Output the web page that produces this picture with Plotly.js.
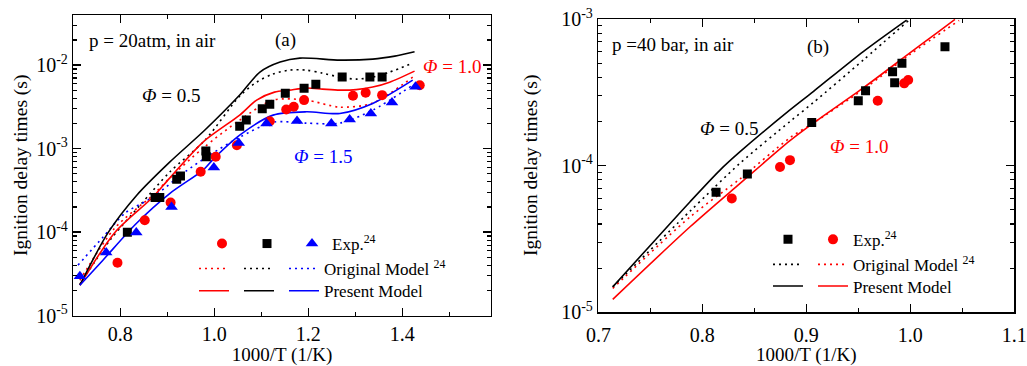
<!DOCTYPE html>
<html><head><meta charset="utf-8">
<script src="https://cdn.plot.ly/plotly-3.0.1.min.js"></script>
<style>html,body{margin:0;padding:0;background:#fff}#chart{width:1027px;height:366px}</style>
</head><body><div id="chart"></div>
<script>
// ---------- Panel (a): p = 20 atm, in air ----------
const aExpX05 = [0.815, 0.874, 0.884, 0.920, 0.928, 0.982, 0.983, 1.054, 1.068, 1.102, 1.118, 1.151, 1.191, 1.216, 1.272, 1.331, 1.357];
const aExpY05 = [1.0e-4, 2.6e-4, 2.6e-4, 4.3e-4, 4.7e-4, 9.4e-4, 8.0e-4, 1.86e-3, 2.2e-3, 3.0e-3, 3.4e-3, 4.6e-3, 5.3e-3, 5.9e-3, 7.2e-3, 7.2e-3, 7.2e-3];
const aExpX10 = [0.794, 0.852, 0.907, 0.971, 1.003, 1.048, 1.118, 1.153, 1.169, 1.191, 1.295, 1.322, 1.357, 1.437];
const aExpY10 = [4.3e-5, 1.39e-4, 2.27e-4, 5.3e-4, 8.0e-4, 1.10e-3, 2.13e-3, 2.94e-3, 3.17e-3, 3.81e-3, 4.29e-3, 4.66e-3, 4.37e-3, 5.75e-3];
const aExpX15 = [0.714, 0.770, 0.834, 0.909, 0.999, 1.052, 1.111, 1.176, 1.249, 1.288, 1.333, 1.378, 1.428];
const aExpY15 = [2.97e-5, 5.7e-5, 9.9e-5, 2.0e-4, 5.96e-4, 1.17e-3, 2.0e-3, 2.15e-3, 2.0e-3, 2.24e-3, 2.64e-3, 3.57e-3, 5.5e-3];

const aPresX05 = [0.714, 0.774, 0.835, 0.905, 0.980, 1.054, 1.097, 1.140, 1.182, 1.267, 1.337, 1.384, 1.426];
const aPresY05 = [2.32e-5, 9.86e-5, 2.77e-4, 6.89e-4, 1.67e-3, 4.38e-3, 8.24e-3, 1.087e-2, 1.213e-2, 1.148e-2, 1.180e-2, 1.282e-2, 1.442e-2];
const aOrigX05 = [0.714, 0.778, 0.842, 0.905, 0.980, 1.054, 1.090, 1.124, 1.160, 1.196, 1.230, 1.267, 1.302, 1.337, 1.373, 1.422];
const aOrigY05 = [2.38e-5, 8.02e-5, 2.10e-4, 5.24e-4, 1.26e-3, 4.26e-3, 6.25e-3, 7.80e-3, 8.71e-3, 8.71e-3, 8.02e-3, 7.18e-3, 6.79e-3, 7.18e-3, 8.24e-3, 1.057e-2];
const aPresX10 = [0.714, 0.788, 0.869, 0.905, 0.976, 1.054, 1.090, 1.128, 1.160, 1.196, 1.230, 1.267, 1.302, 1.337, 1.373, 1.426];
const aPresY10 = [2.32e-5, 9.86e-5, 2.62e-4, 4.44e-4, 1.20e-3, 2.52e-3, 3.81e-3, 4.75e-3, 5.02e-3, 5.31e-3, 5.16e-3, 5.02e-3, 5.09e-3, 5.46e-3, 6.25e-3, 8.47e-3];
const aOrigX10 = [0.714, 0.788, 0.869, 0.905, 0.976, 1.054, 1.125, 1.196, 1.267, 1.337, 1.422];
const aOrigY10 = [2.66e-5, 1.117e-4, 2.77e-4, 4.44e-4, 1.014e-3, 2.19e-3, 3.81e-3, 3.81e-3, 3.14e-3, 3.51e-3, 7.18e-3];
const aPresX15 = [0.714, 0.763, 0.834, 0.905, 0.976, 0.999, 1.054, 1.125, 1.196, 1.267, 1.337, 1.422];
const aPresY15 = [2.32e-5, 4.62e-5, 1.27e-4, 2.90e-4, 5.53e-4, 7.6e-4, 1.45e-3, 2.52e-3, 2.76e-3, 2.64e-3, 3.48e-3, 6.61e-3];
const aOrigX15 = [0.710, 0.763, 0.810, 0.869, 0.937, 0.990, 1.054, 1.125, 1.196, 1.267, 1.337, 1.422];
const aOrigY15 = [4.03e-5, 8.71e-5, 1.69e-4, 2.62e-4, 5.24e-4, 8.36e-4, 1.37e-3, 2.07e-3, 2.02e-3, 2.02e-3, 2.89e-3, 5.75e-3];
const aYTickVals = [1e-5, 1e-4, 1e-3, 1e-2];
const aYTickText = ['10<sup>-5</sup>', '10<sup>-4</sup>', '10<sup>-3</sup>', '10<sup>-2</sup>'];

// ---------- Panel (b): p = 40 bar, in air ----------
const bExpX05 = [0.8132, 0.8433, 0.9052, 0.950, 0.957, 0.983, 0.985, 0.992, 1.0334];
const bExpY05 = [6.58e-5, 8.77e-5, 1.97e-4, 2.77e-4, 3.24e-4, 4.37e-4, 3.67e-4, 4.99e-4, 6.47e-4];
const bExpX10 = [0.8283, 0.8747, 0.8843, 0.9687, 0.9942, 0.998];
const bExpY10 = [5.98e-5, 9.8e-5, 1.09e-4, 2.77e-4, 3.64e-4, 3.84e-4];

const bPresX05 = [0.7138, 0.7882, 0.817, 0.8363, 0.8843, 0.9067, 0.9548, 0.9965];
const bPresY05 = [1.49e-5, 5.68e-5, 9.33e-5, 1.245e-4, 2.40e-4, 3.20e-4, 6.00e-4, 9.84e-4];
const bOrigX05 = [0.7138, 0.7882, 0.8363, 0.8843, 0.9067, 0.9548, 1.0];
const bOrigY05 = [1.49e-5, 4.90e-5, 1.04e-4, 2.0e-4, 2.69e-4, 5.25e-4, 1.0e-3];
const bPresX10 = [0.7138, 0.7882, 0.8363, 0.8843, 0.9067, 0.9548, 1.0, 1.027, 1.043];
const bPresY10 = [1.225e-5, 3.83e-5, 7.57e-5, 1.48e-4, 1.95e-4, 3.39e-4, 5.89e-4, 8.17e-4, 9.93e-4];
const bOrigX10 = [0.7138, 0.7882, 0.8363, 0.8843, 0.9067, 0.9548, 1.0, 1.047];
const bOrigY10 = [1.456e-5, 4.47e-5, 8.13e-5, 1.55e-4, 1.95e-4, 3.31e-4, 5.75e-4, 9.77e-4];
const bYTickVals = [1e-5, 1e-4, 1e-3];
const bYTickText = ['10<sup>-5</sup>', '10<sup>-4</sup>', '10<sup>-3</sup>'];

const RED = '#ff0000', BLUE = '#0000ff', BLACK = '#000000';
const FONT = 'Liberation Serif, Times New Roman, serif';
const DOT = '2px,4px';
const Y_TITLE = 'Ignition delay times (s)';
const X_TITLE = '1000/T (1/K)';

function line(x, y, color, dash, xa, ya, leg, name) {
  return {x, y, xaxis: xa, yaxis: ya, type: 'scatter', mode: 'lines',
    line: {color, width: 1.6, dash, shape: 'spline', smoothing: 0.8},
    legend: leg, name: name, showlegend: true, hoverinfo: 'skip'};
}
function pts(x, y, color, symbol, size, xa, ya, leg, name) {
  return {x, y, xaxis: xa, yaxis: ya, type: 'scatter', mode: 'markers',
    marker: {color, symbol, size, line: {width: 0}},
    legend: leg, name: name, showlegend: true, hoverinfo: 'skip'};
}

const data = [
  // (a) lines
  line(aOrigX10, aOrigY10, RED, DOT, 'x', 'y', 'legend2', ''),
  line(aOrigX05, aOrigY05, BLACK, DOT, 'x', 'y', 'legend2', ''),
  line(aOrigX15, aOrigY15, BLUE, DOT, 'x', 'y', 'legend2', 'Original Model <sup>24</sup>'),
  line(aPresX10, aPresY10, RED, 'solid', 'x', 'y', 'legend3', ''),
  line(aPresX05, aPresY05, BLACK, 'solid', 'x', 'y', 'legend3', ''),
  line(aPresX15, aPresY15, BLUE, 'solid', 'x', 'y', 'legend3', 'Present Model'),
  // (a) experiments
  pts(aExpX10, aExpY10, RED, 'circle', 10, 'x', 'y', 'legend', ''),
  pts(aExpX05, aExpY05, BLACK, 'square', 9, 'x', 'y', 'legend', ''),
  pts(aExpX15, aExpY15, BLUE, 'triangle-up', 11, 'x', 'y', 'legend', 'Exp.<sup>24</sup>'),
  // (b) lines
  line(bOrigX05, bOrigY05, BLACK, DOT, 'x2', 'y2', 'legend5', ''),
  line(bOrigX10, bOrigY10, RED, DOT, 'x2', 'y2', 'legend5', 'Original Model <sup>24</sup>'),
  line(bPresX05, bPresY05, BLACK, 'solid', 'x2', 'y2', 'legend6', ''),
  line(bPresX10, bPresY10, RED, 'solid', 'x2', 'y2', 'legend6', 'Present Model'),
  // (b) experiments
  pts(bExpX05, bExpY05, BLACK, 'square', 9, 'x2', 'y2', 'legend4', ''),
  pts(bExpX10, bExpY10, RED, 'circle', 10, 'x2', 'y2', 'legend4', 'Exp.<sup>24</sup>')
];

const W = 1027, H = 366;
function px(v) { return v / W; }
function py(v) { return (H - v) / H; }

const tickFont = {family: FONT, size: 20, color: '#000'};
const titleFont = {family: FONT, size: 19, color: '#000'};
function xAxis(domain, range, dtick, minorDtick, anchor, standoff, labelStandoff) {
  return {domain, range, anchor, type: 'linear', dtick, tick0: 0, tickformat: '.1f',
    ticks: 'inside', ticklen: 8, tickwidth: 1.4, tickcolor: '#000',
    minor: {ticks: 'inside', ticklen: 4, tickwidth: 1.2, dtick: minorDtick, tick0: 0, tickcolor: '#000'},
    showline: true, linecolor: '#000', linewidth: 1.5, mirror: 'allticks',
    showgrid: false, zeroline: false, tickfont: tickFont, ticklabelstandoff: labelStandoff,
    title: {text: X_TITLE, font: titleFont, standoff: standoff}};
}
function yAxis(domain, range, anchor, tickvals, ticktext) {
  return {domain, range, anchor, type: 'log', tickmode: 'array', tickvals, ticktext,
    ticks: 'inside', ticklen: 8, tickwidth: 1.4, tickcolor: '#000',
    minor: {tickmode: 'linear', ticks: 'inside', ticklen: 4, tickwidth: 1.2, dtick: 'D1', tickcolor: '#000'},
    showline: true, linecolor: '#000', linewidth: 1.5, mirror: 'allticks',
    showgrid: false, zeroline: false, tickfont: tickFont};
}

const legFont = {family: FONT, size: 17, color: '#000'};
function leg(left, center) {
  return {orientation: 'h', x: px(left), xanchor: 'left', y: py(center - 17.5), yanchor: 'top',
    bgcolor: 'rgba(0,0,0,0)', borderwidth: 0, font: legFont,
    itemclick: false, itemdoubleclick: false};
}

const annFont = {family: FONT, size: 19, color: '#000'};
function ann(text, x, y, xref, yref, color, xanchor) {
  return {text, x, y, xref, yref, showarrow: false, xanchor: xanchor || 'center', yanchor: 'middle',
    font: Object.assign({}, annFont, {color: color || '#000'})};
}
function yTitle(xPix, yPix) {
  return {text: Y_TITLE, x: px(xPix), y: py(yPix), xref: 'paper', yref: 'paper', showarrow: false,
    textangle: -90, xanchor: 'center', yanchor: 'middle', font: Object.assign({}, titleFont, {size: 19.5})};
}

const layout = {
  width: W, height: H, margin: {l: 0, r: 0, t: 0, b: 0},
  paper_bgcolor: '#fff', plot_bgcolor: '#fff', showlegend: true,
  font: {family: FONT, color: '#000'},
  xaxis: xAxis([px(73.3), px(490.7)], [0.70, 1.588], 0.2, 0.1, 'y', 4, 0),
  yaxis: yAxis([py(315.7), py(15)], [-5, -1.40], 'x', aYTickVals, aYTickText),
  xaxis2: xAxis([px(598.3), px(1014.3)], [0.6999, 1.1001], 0.1, 0.05, 'y2', 9, 4),
  yaxis2: yAxis([py(312.3), py(19)], [-5, -3], 'x2', bYTickVals, bYTickText),
  legend: leg(202, 243.5),
  legend2: leg(194, 268.5),
  legend3: leg(194, 290.7),
  legend4: leg(768, 239.3),
  legend5: leg(768, 264.3),
  legend6: leg(768, 286),
  annotations: [
    yTitle(21, 166),
    yTitle(531, 166),
    ann('p = 20atm, in air', 0.7285, -1.70, 'x', 'y', '#000', 'left'),
    ann('(a)', 1.152, -1.70, 'x', 'y'),
    ann('<i>Φ</i> = 0.5', 0.9075, -2.359, 'x', 'y', BLACK),
    ann('<i>Φ</i> = 1.0', 1.5066, -2.020, 'x', 'y', RED),
    ann('<i>Φ</i> = 1.5', 1.2303, -3.098, 'x', 'y', BLUE),
    ann('p =40 bar, in air', 0.7113, -3.177, 'x2', 'y2', '#000', 'left'),
    ann('(b)', 0.9112, -3.189, 'x2', 'y2'),
    ann('<i>Φ</i> = 0.5', 0.8257, -3.744, 'x2', 'y2', BLACK),
    ann('<i>Φ</i> = 1.0', 0.9507, -3.871, 'x2', 'y2', RED)
  ]
};

Plotly.newPlot('chart', data, layout, {staticPlot: true, displayModeBar: false});
</script>
</body></html>
